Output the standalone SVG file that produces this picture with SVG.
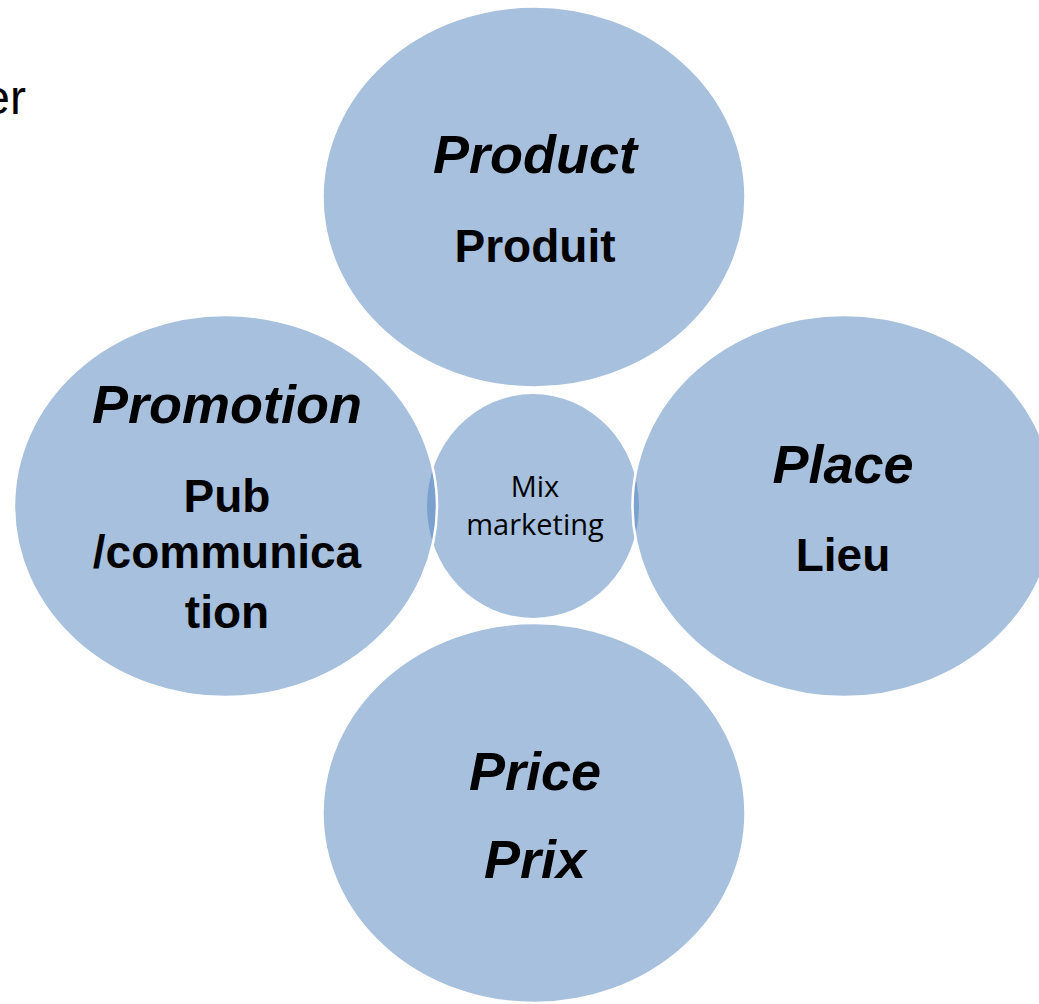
<svg xmlns="http://www.w3.org/2000/svg" width="1039" height="1004" viewBox="0 0 1039 1004">
<style>
.c{fill:#4F81BD;fill-opacity:0.5;}
.o{stroke:#FFFFFF;stroke-width:2.5;}
.h{font-family:"Liberation Sans",Arial,sans-serif;font-weight:bold;font-style:italic;font-size:54px;fill:#000;text-anchor:middle;}
.s{font-family:"Liberation Sans",Arial,sans-serif;font-weight:bold;font-size:46px;fill:#000;text-anchor:middle;}
.m{font-family:"Open Sans","Liberation Sans",sans-serif;font-size:29px;fill:#000;text-anchor:middle;}
</style>
<rect width="1039" height="1004" fill="#FFFFFF"/>
<text x="26" y="114" font-family="Liberation Sans, Arial, sans-serif" font-size="48" text-anchor="end" fill="#000">er</text>
<g id="center">
<ellipse class="c" cx="533" cy="506" rx="106" ry="112"/>
<text class="m" x="535" y="497">Mix</text>
<text class="m" x="535" y="535">marketing</text>
</g>
<g id="product">
<ellipse class="c o" cx="534" cy="197" rx="211.5" ry="190.5"/>
<text class="h" x="535" y="173">Product</text>
<text class="s" x="535" y="262">Produit</text>
</g>
<g id="promotion">
<ellipse class="c o" cx="225.5" cy="506" rx="211.5" ry="191"/>
<text class="h" x="227" y="423">Promotion</text>
<text class="s" x="227" y="512">Pub</text>
<text class="s" x="227" y="568" font-size="47">/communica</text>
<text class="s" x="227" y="628">tion</text>
</g>
<g id="place">
<ellipse class="c o" cx="844" cy="506" rx="211.5" ry="191"/>
<text class="h" x="843" y="483">Place</text>
<text class="s" x="843" y="571" font-size="43">Lieu</text>
</g>
<g id="price">
<ellipse class="c o" cx="534" cy="813" rx="211.5" ry="190"/>
<text class="h" x="535" y="790">Price</text>
<text class="h" x="535" y="878" font-size="44">Prix</text>
</g>
<g id="connectors"/>
</svg>
